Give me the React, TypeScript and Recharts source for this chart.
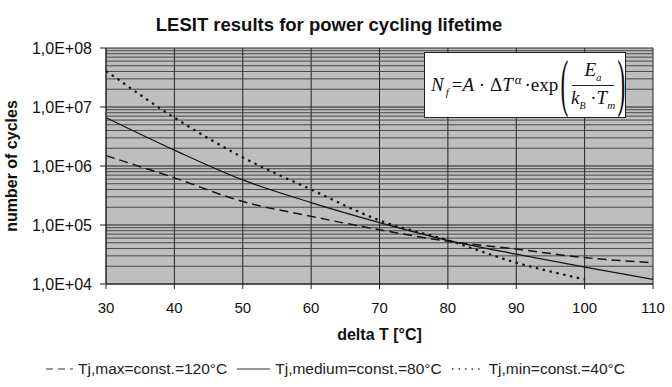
import { LineChart, Line, XAxis, YAxis, CartesianGrid, Legend, ReferenceLine } from 'recharts';

// readings (cycles to failure vs delta T)
const deltaT = [30, 40, 50, 60, 70, 80, 90, 100, 110];
const tjMaxCycles = [1.5e6, 6.3e5, 2.5e5, 1.4e5, 8.3e4, 5.3e4, 3.9e4, 2.8e4, 2.3e4];
const tjMediumCycles = [6.6e6, 1.86e6, 5.8e5, 2.4e5, 1.1e5, 5.5e4, 3.2e4, 1.94e4, 1.2e4];
const tjMinCycles = [4.1e7, 6.6e6, 1.4e6, 4.0e5, 1.2e5, 5.5e4, 2.3e4, 1.2e4, null];

const xTicks = [30, 40, 50, 60, 70, 80, 90, 100, 110];
const yTicks = [1e4, 1e5, 1e6, 1e7, 1e8];
const minorSteps = [2, 3, 4, 5, 6, 7, 8, 9];

const series = [
  { key: 'tjMax', name: 'Tj,max=const.=120°C', dash: '9 5', width: 1.5, iconW: 27, iconDash: '7 5' },
  { key: 'tjMedium', name: 'Tj,medium=const.=80°C', dash: undefined, width: 1.3, iconW: 33, iconDash: undefined },
  { key: 'tjMin', name: 'Tj,min=const.=40°C', dash: '2.5 4.5', width: 2.2, iconW: 32, iconDash: '1.5 5' },
];

const data = deltaT.map((t, i) => ({
  deltaT: t,
  tjMax: tjMaxCycles[i],
  tjMedium: tjMediumCycles[i],
  tjMin: tjMinCycles[i],
}));

const minorY = yTicks.slice(0, -1).flatMap((d) => minorSteps.map((m) => m * d));

const fmtY = (v: number) => {
  const e = Math.round(Math.log10(v));
  return `1,0E+${String(e).padStart(2, '0')}`;
};

const LegendRow = () => (
  <div style={{ display: 'flex', alignItems: 'center', height: 30, paddingLeft: 46, fontSize: 15.5, color: '#222', fontFamily: '"Liberation Sans", Arial, sans-serif', whiteSpace: 'nowrap', marginTop: -3 }}>
    {series.map((s) => (
      <div key={s.key} style={{ display: 'flex', alignItems: 'center', marginRight: 10 }}>
        <svg width={s.iconW} height={10} style={{ marginRight: 5 }}>
          <line x1={0} y1={5} x2={s.iconW} y2={5} stroke="#333" strokeWidth={s.key === 'tjMin' ? 1.5 : 1} strokeDasharray={s.iconDash} />
        </svg>
        <span>{s.name}</span>
      </div>
    ))}
  </div>
);

const paren = { display: 'inline-block', fontSize: 26, transform: 'scale(0.9, 2.4)', fontWeight: 300 } as const;

const Formula = () => (
  <div
    style={{
      position: 'absolute', left: 424, top: 52, width: 202, height: 66,
      background: '#fff', border: '1px solid #222',
      fontFamily: '"Liberation Serif", "Times New Roman", serif', fontSize: 19, color: '#111',
      display: 'flex', alignItems: 'center', paddingLeft: 6, boxSizing: 'border-box', whiteSpace: 'nowrap',
    }}
  >
    <span>
      <i>N</i>
      <sub style={{ fontSize: 11, fontStyle: 'italic', marginLeft: 2, marginRight: 3 }}>f</sub>
      =<i>A</i> · Δ<i>T</i>
      <sup style={{ fontSize: 13, fontStyle: 'italic', marginLeft: 2, marginRight: 3 }}>α</sup>
      ·exp
    </span>
    <span style={{ ...paren, marginLeft: 2 }}>(</span>
    <span style={{ display: 'inline-flex', flexDirection: 'column', alignItems: 'center', margin: '0 2px' }}>
      <span style={{ borderBottom: '1px solid #222', padding: '0 12px 2px' }}>
        <i>E</i><sub style={{ fontSize: 11, fontStyle: 'italic' }}>a</sub>
      </span>
      <span style={{ paddingTop: 1 }}>
        <i>k</i><sub style={{ fontSize: 10, fontStyle: 'italic' }}>B</sub> ·<i>T</i><sub style={{ fontSize: 11, fontStyle: 'italic' }}>m</sub>
      </span>
    </span>
    <span style={paren}>)</span>
  </div>
);

export default function App() {
  return (
    <div style={{ position: 'fixed', left: 0, top: 0, width: 672, height: 387, background: '#fff', fontFamily: '"Liberation Sans", Arial, sans-serif' }}>
      <div style={{ position: 'absolute', left: 0, top: 14, width: 658, textAlign: 'center', fontWeight: 'bold', fontSize: 18.5, color: '#111' }}>
        LESIT results for power cycling lifetime
      </div>
      <LineChart width={672} height={387} data={data} margin={{ top: 48, right: 19, bottom: 0, left: 0 }}>
        <CartesianGrid stroke="#222" strokeWidth={1} fill="#bebebe" fillOpacity={1} />
        {minorY.map((v) => (
          <ReferenceLine key={v} y={v} stroke="#3a3a3a" strokeWidth={0.9} ifOverflow="hidden" />
        ))}
        <XAxis
          dataKey="deltaT"
          type="number"
          domain={[30, 110]}
          ticks={xTicks}
          height={73}
          tickSize={5}
          tickMargin={13}
          stroke="#222"
          tick={{ fill: '#111', fontSize: 15 }}
          label={{ value: 'delta T [°C]', position: 'insideBottom', offset: 17, fill: '#111', fontSize: 16, fontWeight: 'bold' }}
        />
        <YAxis
          scale="log"
          domain={[1e4, 1e8]}
          ticks={yTicks}
          allowDataOverflow
          width={106}
          tickSize={6}
          tickMargin={8}
          stroke="#222"
          tickFormatter={fmtY}
          tick={{ fill: '#111', fontSize: 16 }}
          label={{
            content: (props: any) => {
              const vb = props.viewBox || { y: 48, height: 236 };
              const cy = vb.y + vb.height / 2;
              return (
                <text x={13} y={cy} transform={`rotate(-90, 13, ${cy})`} textAnchor="middle" dominantBaseline="middle" fontSize={16} fontWeight="bold" fill="#111">
                  number of cycles
                </text>
              );
            },
          }}
        />
        <Legend verticalAlign="bottom" height={30} content={() => <LegendRow />} />
        {series.map((s) => (
          <Line
            key={s.key}
            type="monotone"
            dataKey={s.key}
            name={s.name}
            stroke="#151515"
            strokeWidth={s.width}
            strokeDasharray={s.dash}
            dot={false}
            connectNulls={false}
            legendType="plainline"
            isAnimationActive={false}
          />
        ))}
      </LineChart>
      <Formula />
    </div>
  );
}
